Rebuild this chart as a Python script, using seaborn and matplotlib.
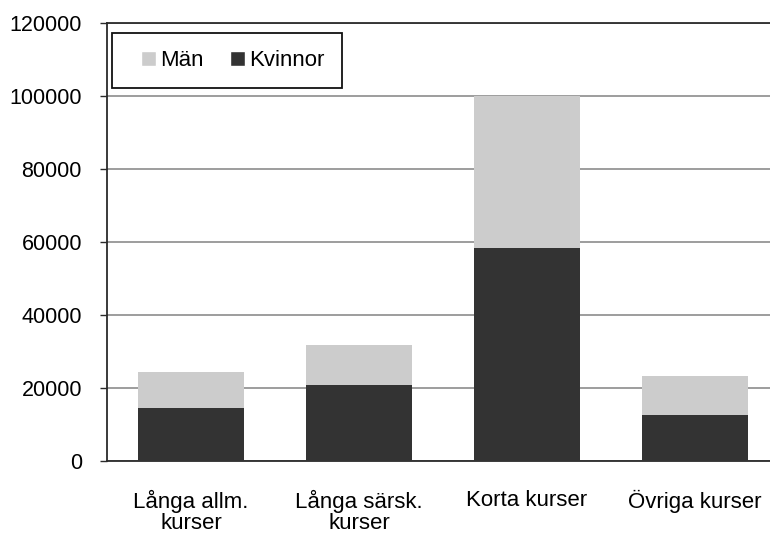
import matplotlib
matplotlib.use("Agg")
import matplotlib.pyplot as plt
from matplotlib.patches import Patch, Rectangle
import seaborn as sns
import pandas as pd

# data
categories = ["Långa allm.\nkurser", "Långa särsk.\nkurser", "Korta kurser", "Övriga kurser"]
kvinnor = [14600, 20800, 58300, 12700]
man = [9800, 11000, 41600, 10600]
y_ticks = [0, 20000, 40000, 60000, 80000, 100000, 120000]

df = pd.DataFrame({"kurs": categories, "Kvinnor": kvinnor, "Män": man})
df["total"] = df["Kvinnor"] + df["Män"]

sns.set_style("white")
plt.rcParams["font.family"] = ["Liberation Sans", "DejaVu Sans"]
plt.rcParams["text.color"] = "black"
plt.rcParams["xtick.labelcolor"] = "black"
plt.rcParams["ytick.labelcolor"] = "black"

fig = plt.figure(figsize=(7.7, 5.33), dpi=100)
ax = fig.add_axes([107 / 770, 72 / 533, 672 / 770, 438 / 533])

# stacked: draw totals (Män on top) then Kvinnor over the bottom part
sns.barplot(data=df, x="kurs", y="total", color="#cccccc", width=0.63,
            saturation=1, linewidth=0, ax=ax, zorder=3)
sns.barplot(data=df, x="kurs", y="Kvinnor", color="#333333", width=0.63,
            saturation=1, linewidth=0, ax=ax, zorder=4)

ax.set_ylim(0, 120000)
ax.set_xlim(-0.5, 3.5)
ax.set_yticks(y_ticks)
ax.set_xlabel("")
ax.set_ylabel("")
ax.yaxis.grid(True, color="#8c8c8c", linewidth=1.2, zorder=0)
ax.set_axisbelow(True)

for s in ["left", "bottom", "top", "right"]:
    ax.spines[s].set_color("#2b2b2b")
    ax.spines[s].set_linewidth(1.3)

ax.tick_params(axis="y", left=True, length=5, width=1, color="#2b2b2b",
               pad=13, labelsize=15.5, labelcolor="black")
ax.tick_params(axis="x", bottom=False, length=0, pad=21, labelsize=16,
               labelcolor="black")
for lbl in ax.get_xticklabels():
    lbl.set_linespacing(0.98)

# legend box drawn separately so the padding can match the reference
ax.add_patch(Rectangle((5 / 672, 1 - 65 / 438), 230 / 672, 55 / 438,
                       transform=ax.transAxes, facecolor="white",
                       edgecolor="#111111", linewidth=1.3, zorder=5))
handles = [Patch(facecolor="#cccccc", label="Män"),
           Patch(facecolor="#333333", label="Kvinnor")]
leg = ax.legend(handles=handles, loc="center left",
                bbox_to_anchor=(34 / 672, 1 - 38 / 438),
                borderaxespad=0, borderpad=0, ncol=2, frameon=False,
                fontsize=16, handlelength=0.68, handleheight=0.68,
                handletextpad=0.2, columnspacing=1.15, labelcolor="black")
leg.set_zorder(6)

fig.savefig("out.png", dpi=100)
